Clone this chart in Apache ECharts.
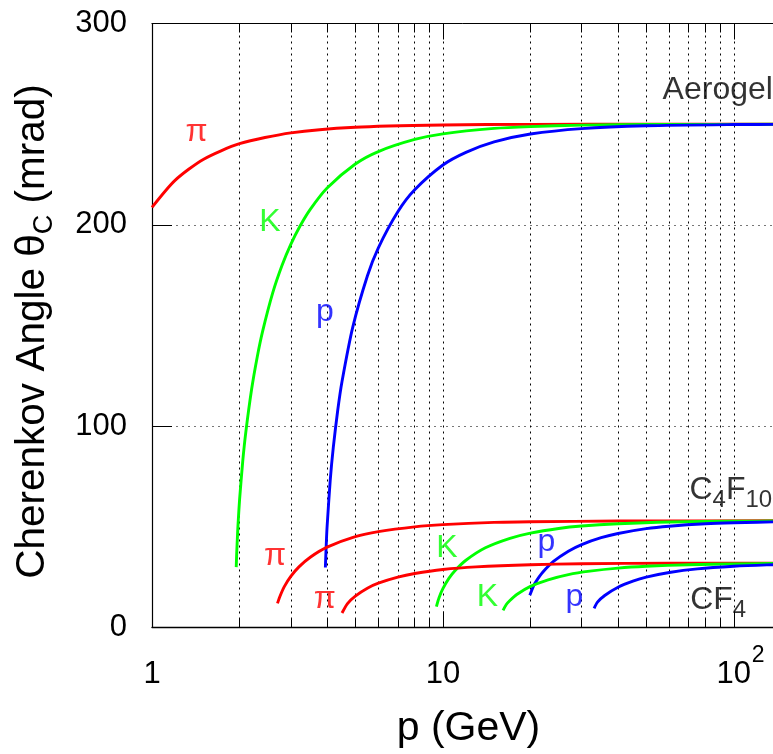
<!DOCTYPE html>
<html><head><meta charset="utf-8">
<script src="https://cdn.jsdelivr.net/npm/echarts@6/dist/echarts.min.js"></script>
<style>html,body{margin:0;padding:0;background:#fff}#c{width:773px;height:754px}</style>
</head><body><div id="c"></div><script>
const FONT = '"Liberation Sans", Arial, Helvetica, sans-serif';

// ---- Aerogel (momentum GeV, angle mrad) ----
const aeroPiP = [1, 1.2, 1.5, 2, 3, 5, 10, 20, 50, 150];
const aeroPiT = [208.7, 222.1, 232.5, 240.3, 245.7, 248.5, 249.6, 249.9, 250, 250];
const aeroKP = [1.948, 1.955, 1.97, 1.98, 2.0, 2.05, 2.1, 2.2, 2.3, 2.4, 2.6, 2.8, 3.0, 3.225, 3.5, 4, 5, 6, 8, 10, 15, 20, 30, 50, 150];
const aeroKT = [30, 36.7, 47.5, 53.4, 63.4, 82.3, 96.7, 118.3, 134.4, 147.1, 166.2, 179.9, 190.3, 199.3, 207.7, 218.3, 230.2, 236.4, 242.4, 245.2, 247.9, 248.8, 249.5, 249.8, 250];
const aeroPrP = [3.945, 3.95, 3.98, 4.0, 4.1, 4.2, 4.35, 4.5, 4.9, 5.5, 6, 7, 8, 10, 12, 15, 20, 30, 50, 100, 150];
const aeroPrT = [29.8, 32.3, 44.1, 50.4, 73.3, 89.5, 107.9, 122.2, 149.2, 174.6, 188.6, 206.5, 217.4, 229.7, 236.0, 241.2, 245.1, 247.8, 249.2, 249.8, 249.9];

// ---- C4F10 ----
const c4PiP = [2.70, 2.75, 2.85, 3, 3.2, 3.5, 4, 5, 6, 8, 10, 15, 20, 40, 150];
const c4PiT = [12, 15.3, 20.3, 25.4, 30.1, 34.9, 39.9, 45.1, 47.6, 50.0, 51.1, 52.2, 52.5, 52.9, 53.0];
const c4KP = [9.5, 9.7, 10, 10.5, 11, 12, 14, 17, 20, 25, 30, 40, 60, 100, 150];
const c4KT = [10.4, 14.8, 19.3, 24.5, 28.2, 33.4, 39.6, 44.3, 46.9, 49.2, 50.4, 51.5, 52.4, 52.8, 52.9];
const c4PrP = [19.9, 20.5, 21, 22, 24, 27, 30, 35, 40, 50, 60, 80, 100, 150];
const c4PrT = [16, 20.7, 23.3, 27.3, 32.8, 37.9, 41.2, 44.6, 46.7, 49.1, 50.3, 51.5, 52.0, 52.6];

// ---- CF4 ----
const cf4PiP = [4.5, 4.7, 5, 5.5, 6, 7, 8, 10, 13, 20, 30, 60, 150];
const cf4PiT = [7.2, 11.9, 15.6, 19.5, 22.0, 25.0, 26.8, 28.8, 30.1, 31.2, 31.7, 31.9, 32.0];
const cf4KP = [16.1, 16.5, 17, 18, 20, 23, 27, 32, 40, 50, 70, 100, 150];
const cf4KT = [8.5, 11.3, 13.4, 16.5, 20.4, 23.7, 26.3, 28.0, 29.5, 30.4, 31.2, 31.6, 31.8];
const cf4PrP = [33.1, 34, 36, 40, 45, 50, 60, 75, 100, 130, 150];
const cf4PrT = [9.5, 12.6, 15.9, 20.0, 23.0, 25.0, 27.3, 29.1, 30.4, 31.1, 31.3];

// tick labels
const yTicks = [0, 100, 200, 300];
const xTickLabels = {1: '1', 10: '10', 100: '10'};
const xTickSup = {100: '2'};

// annotation texts (anchor in data coordinates)
const annTexts = ['π', 'K', 'p', 'Aerogel', 'π', 'K', 'p', '{n|C}{b|4}{n|F}{b|10}', 'π', 'K', 'p', '{n|C}{n|F}{b|4}'];
const annP     = [1.422, 2.544, 3.93, 88.1, 2.646, 10.32, 22.69, 97.7, 3.93, 14.22, 28.31, 88.4];
const annT     = [245.9, 201.2, 156.7, 267.0, 35.3, 39.2, 42.5, 66.8, 13.9, 14.9, 15.2, 12.2];

const RED = '#ff0000', GREEN = '#00ff00', BLUE = '#0000ff';
const annColors = [RED, GREEN, BLUE, '#000', RED, GREEN, BLUE, '#000', RED, GREEN, BLUE, '#000'];

const curves = [
  [aeroPiP, aeroPiT, RED], [aeroKP, aeroKT, GREEN], [aeroPrP, aeroPrT, BLUE],
  [c4PiP, c4PiT, RED], [c4KP, c4KT, GREEN], [c4PrP, c4PrT, BLUE],
  [cf4PiP, cf4PiT, RED], [cf4KP, cf4KT, GREEN], [cf4PrP, cf4PrT, BLUE]
];

const zip = (a, b) => a.map((v, i) => [v, b[i]]);

const series = curves.map(([px, ty, col]) => ({
  type: 'line', data: zip(px, ty), showSymbol: false, symbol: 'none',
  smooth: 0.25, lineStyle: {color: col, width: 2.9}, z: 3, clip: true, animation: false
}));

series.push({
  type: 'scatter', symbolSize: 0, z: 5, animation: false, silent: true, clip: false,
  data: annTexts.map((t, i) => ({
    value: [annP[i], annT[i]],
    label: {show: true, position: 'inside', formatter: t, color: annColors[i]}
  })),
  label: {
    show: true, fontFamily: FONT, fontSize: 32,
    rich: {
      n: {fontSize: 32, lineHeight: 32, verticalAlign: 'top', fontFamily: FONT},
      b: {fontSize: 24, lineHeight: 38, padding: [14, 0, 0, 0], verticalAlign: 'bottom', fontFamily: FONT}
    }
  }
});

const gridDot = {color: '#000', width: 1, type: [2, 4]};

const chart = echarts.init(document.getElementById('c'), null, {renderer: 'canvas'});
chart.setOption({
  animation: false,
  backgroundColor: '#fff',
  grid: {left: 152, top: 23.5, right: -12, bottom: 126.5, containLabel: false, outerBoundsMode: 'none'},
  xAxis: [{
    type: 'log', logBase: 10, min: 1, max: 150,
    name: 'p (GeV)', nameLocation: 'middle', nameGap: 81,
    nameTextStyle: {fontFamily: FONT, fontSize: 41, color: '#000'},
    axisLine: {show: true, onZero: false, lineStyle: {color: '#000', width: 1.4}},
    axisTick: {show: true, inside: true, length: 16, lineStyle: {color: '#000'}},
    minorTick: {show: true, splitNumber: 9, length: 9, lineStyle: {color: '#000'}},
    splitLine: {show: true, lineStyle: gridDot},
    minorSplitLine: {show: true, lineStyle: gridDot},
    axisLabel: {
      margin: 31, fontFamily: FONT, color: '#000', fontSize: 31,
      formatter: v => {
        const r = Math.round(v);
        return (Math.abs(v - r) < 1e-6 && xTickLabels[r]) ? xTickLabels[r] : '';
      }
    }
  }, {
    type: 'log', logBase: 10, min: 1, max: 150, position: 'top',
    axisLine: {show: true, onZero: false, lineStyle: {color: '#000', width: 1}},
    axisTick: {show: true, inside: true, length: 16, lineStyle: {color: '#000'}},
    minorTick: {show: true, splitNumber: 9, length: 9, lineStyle: {color: '#000'}},
    splitLine: {show: false}, axisLabel: {show: false}
  }],
  yAxis: {
    type: 'value', min: yTicks[0], max: yTicks[yTicks.length - 1], interval: 100,
    name: '{a|Cherenkov Angle θ}{s|C}{a| (mrad)}', nameLocation: 'middle', nameGap: 94,
    nameTextStyle: {
      fontFamily: FONT, fontSize: 40.5, color: '#000', padding: [0, 12, 0, 0],
      rich: {
        a: {fontSize: 40.5, lineHeight: 40.5, verticalAlign: 'top', fontFamily: FONT, color: '#000'},
        s: {fontSize: 27, lineHeight: 46, padding: [19, 0, 0, 0], verticalAlign: 'bottom', fontFamily: FONT, color: '#000'}
      }
    },
    axisLine: {show: true, lineStyle: {color: '#000', width: 1.2}},
    axisTick: {show: true, inside: true, length: 20, lineStyle: {color: '#000'}},
    splitLine: {show: true, lineStyle: {color: '#777', width: 1, type: [2, 4]}},
    axisLabel: {margin: 25, fontFamily: FONT, fontSize: 31, color: '#000'}
  },
  series: series
});

// superscript exponent on the 10^2 tick label, placed from the axis scale
const supEls = Object.keys(xTickSup).map(k => {
  const px = chart.convertToPixel({xAxisIndex: 0}, Number(k));
  const py = chart.convertToPixel({yAxisIndex: 0}, yTicks[0]);
  return {
    type: 'text', x: px + 18, y: py + 17, silent: true,
    style: {text: xTickSup[k], fontFamily: FONT, fontSize: 23, fill: '#000'}
  };
});
chart.setOption({graphic: supEls});
</script></body></html>
